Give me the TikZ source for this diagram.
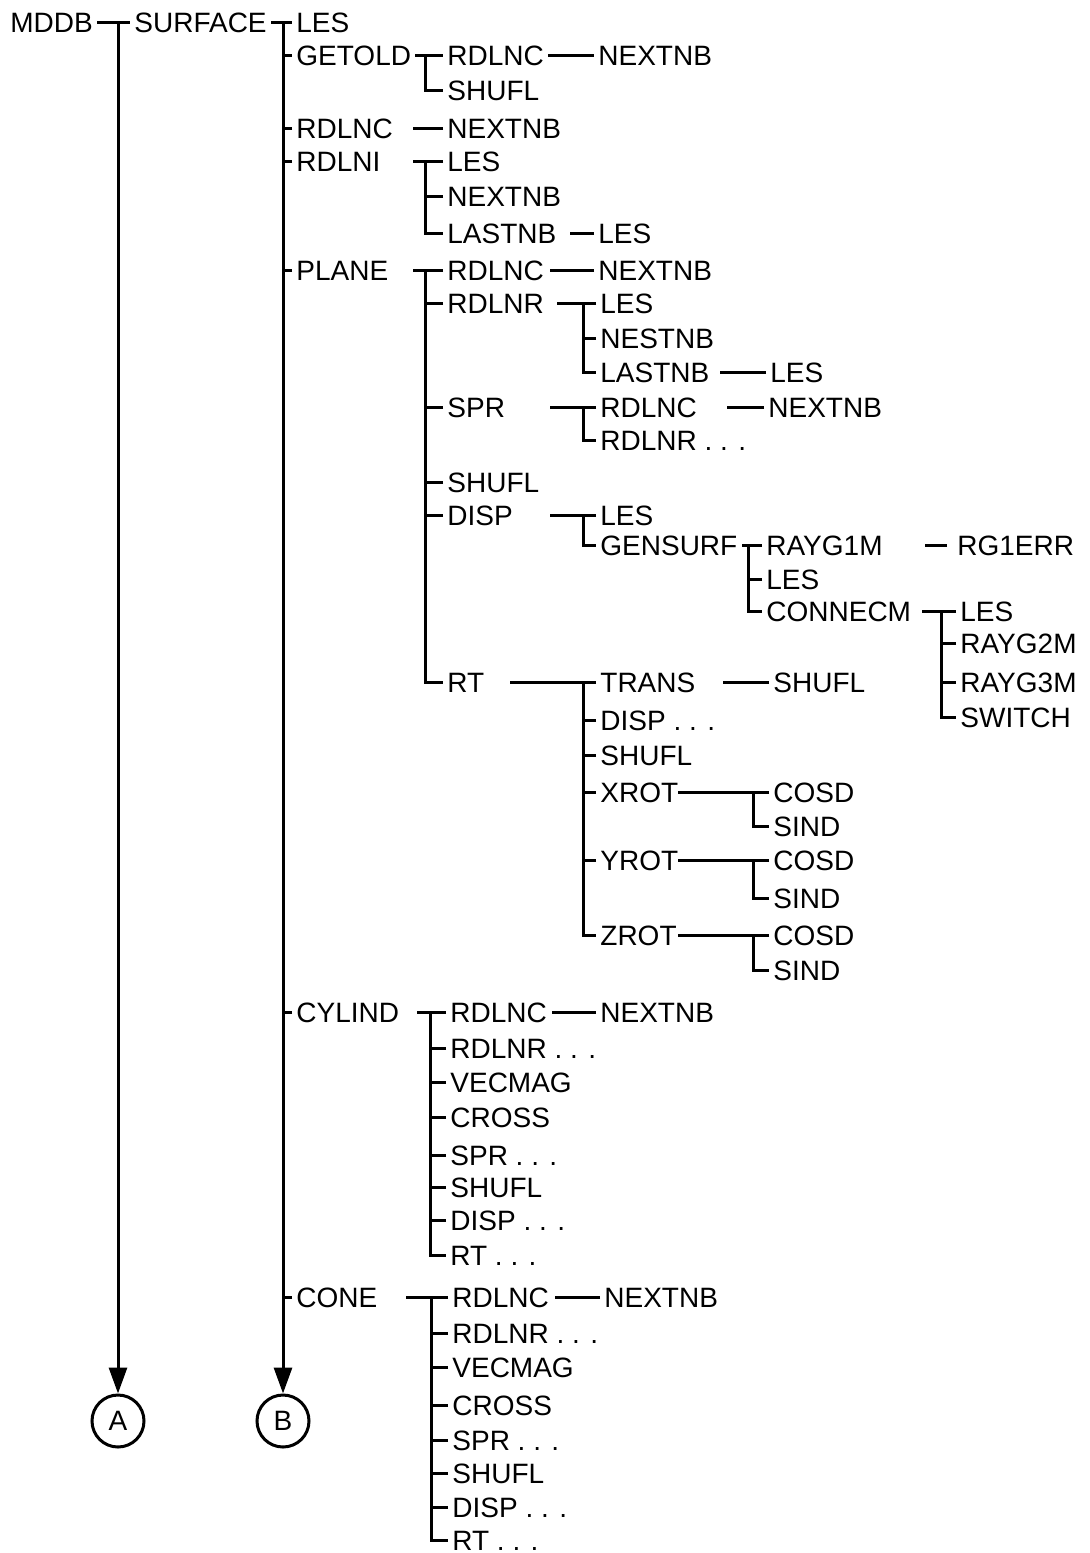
\documentclass[tikz,border=0pt]{standalone}
\usepackage{fontspec}
\setmainfont{Liberation Sans}
\usetikzlibrary{arrows.meta, positioning}

\tikzset{
  routine/.style={anchor=west, inner sep=2pt, font=\fontsize{14}{16}\selectfont,
                  text height=10pt, text depth=0pt},
  tree/.style={line width=1.5pt},
  callarrow/.style={tree, -{Triangle[length=13pt, width=9pt]}},
  endmark/.style={draw, circle, line width=1.5pt, minimum size=26pt, inner sep=0pt,
                  font=\fontsize{14}{16}\selectfont},
}

\begin{document}
\begin{tikzpicture}[x=0.5pt, y=-0.5pt]
  \useasboundingbox (0,0) rectangle (1090,1553);

  % Main program and its two continuations
  \node[routine] (mddb) at (6,22) {MDDB};
  \node[routine] (surface) at (130,22) {SURFACE};
  \node[endmark] (A) at (118,1421) {A};
  \node[endmark] (B) at (283,1421) {B};
  \draw[tree] (mddb) -- (surface);
  \draw[callarrow] (A |- surface.west) -- (A);

  % SURFACE
  \foreach \n/\y/\t in {les/22/LES, getold/55/GETOLD, rdlnc/128/RDLNC, rdlni/161/RDLNI,
                        plane/270/PLANE, cylind/1012/CYLIND, cone/1297/CONE}
    \node[routine] (\n) at (292,\y) {\t};
  \draw[tree] (surface) -- (les);
  \draw[callarrow] (B |- les.west) -- (B);
  \foreach \n in {getold, rdlnc, rdlni, plane, cylind, cone}
    \draw[tree] (\n.west) -- (B |- \n.west);

  % GETOLD
  \node[routine] (go1) at (443,55) {RDLNC};
  \node[routine] (go2) at (443,90) {SHUFL};
  \node[routine] (go3) at (594,55) {NEXTNB};
  \draw[tree] (getold) -- (go1);
  \draw[tree] (go1.west) ++(-18,0) |- (go2.west);
  \draw[tree] (go1) -- (go3);

  % RDLNC
  \node[routine] (rc1) at (443,128) {NEXTNB};
  \draw[tree] (rc1.west) -- ++(-30,0);

  % RDLNI
  \foreach \i/\y/\t in {1/161/LES, 2/196/NEXTNB, 3/233/LASTNB}
    \node[routine] (ri\i) at (443,\y) {\t};
  \node[routine] (ri4) at (594,233) {LES};
  \draw[tree] (ri1.west) -- ++(-30,0);
  \draw[tree] (ri1.west) ++(-18,0) |- (ri3.west);
  \draw[tree] (ri2.west) -- ++(-18,0);
  \draw[tree] (ri4.west) -- ++(-24,0);

  % PLANE
  \foreach \i/\y/\t in {1/270/RDLNC, 2/303/RDLNR, 3/407/SPR, 4/482/SHUFL, 5/515/DISP, 6/682/RT}
    \node[routine] (pl\i) at (443,\y) {\t};
  \node[routine] (pl1a) at (594,270) {NEXTNB};
  \draw[tree] (pl1.west) -- ++(-30,0);
  \draw[tree] (pl1.west) ++(-18,0) |- (pl6.west);
  \foreach \i in {2,...,5}
    \draw[tree] (pl\i.west) -- ++(-18,0);
  \draw[tree] (pl1a.west) -- ++(-44,0);

  % PLANE / RDLNR
  \foreach \i/\y/\t in {1/303/LES, 2/338/NESTNB, 3/372/LASTNB}
    \node[routine] (rr\i) at (596,\y) {\t};
  \node[routine] (rr4) at (766,372) {LES};
  \draw[tree] (rr1.west) -- ++(-39,0);
  \draw[tree] (rr1.west) ++(-13,0) |- (rr3.west);
  \draw[tree] (rr2.west) -- ++(-13,0);
  \draw[tree] (rr4.west) -- ++(-46,0);

  % PLANE / SPR
  \node[routine] (sp1) at (596,407) {RDLNC};
  \node[routine] (sp2) at (596,440) {RDLNR . . .};
  \node[routine] (sp3) at (764,407) {NEXTNB};
  \draw[tree] (sp1.west) -- ++(-46,0);
  \draw[tree] (sp1.west) ++(-13,0) |- (sp2.west);
  \draw[tree] (sp3.west) -- ++(-37,0);

  % PLANE / DISP
  \node[routine] (di1) at (596,515) {LES};
  \node[routine] (di2) at (596,545) {GENSURF};
  \draw[tree] (di1.west) -- ++(-46,0);
  \draw[tree] (di1.west) ++(-13,0) |- (di2.west);

  % GENSURF
  \foreach \i/\y/\t in {1/545/RAYG1M, 2/579/LES, 3/611/CONNECM}
    \node[routine] (gs\i) at (762,\y) {\t};
  \node[routine] (gs4) at (953,545) {RG1ERR};
  \draw[tree] (gs1.west) -- ++(-20,0);
  \draw[tree] (gs1.west) ++(-14,0) |- (gs3.west);
  \draw[tree] (gs2.west) -- ++(-14,0);
  \draw[tree] (gs4.west) ++(-6,0) -- ++(-22,0);

  % CONNECM
  \foreach \i/\y/\t in {1/611/LES, 2/643/RAYG2M, 3/682/RAYG3M, 4/717/SWITCH}
    \node[routine] (cm\i) at (956,\y) {\t};
  \draw[tree] (cm1.west) -- ++(-34,0);
  \draw[tree] (cm1.west) ++(-15,0) |- (cm4.west);
  \foreach \i in {2,3}
    \draw[tree] (cm\i.west) -- ++(-15,0);

  % PLANE / RT
  \foreach \i/\y/\t in {1/682/TRANS, 2/720/DISP . . ., 3/755/SHUFL, 4/792/XROT, 5/860/YROT, 6/935/ZROT}
    \node[routine] (rt\i) at (596,\y) {\t};
  \node[routine] (rt1a) at (769,682) {SHUFL};
  \draw[tree] (rt1.west) -- ++(-86,0);
  \draw[tree] (rt1.west) ++(-13,0) |- (rt6.west);
  \foreach \i in {2,...,5}
    \draw[tree] (rt\i.west) -- ++(-13,0);
  \draw[tree] (rt1a.west) -- ++(-46,0);

  % XROT, YROT, ZROT
  \foreach \r/\y/\z in {x/792/826, y/860/898, z/935/970} {
    \node[routine] (cos\r) at (769,\y) {COSD};
    \node[routine] (sin\r) at (769,\z) {SIND};
    \draw[tree] (cos\r.west) -- ++(-91,0);
    \draw[tree] (cos\r.west) ++(-16,0) |- (sin\r.west);
  }

  % CYLIND
  \foreach \i/\y/\t in {1/1012/RDLNC, 2/1048/RDLNR . . ., 3/1082/VECMAG, 4/1117/CROSS,
                        5/1155/SPR . . ., 6/1187/SHUFL, 7/1220/DISP . . ., 8/1255/RT . . .}
    \node[routine] (cy\i) at (446,\y) {\t};
  \node[routine] (cy1a) at (596,1012) {NEXTNB};
  \draw[tree] (cy1.west) -- ++(-29,0);
  \draw[tree] (cy1.west) ++(-16,0) |- (cy8.west);
  \foreach \i in {2,...,7}
    \draw[tree] (cy\i.west) -- ++(-16,0);
  \draw[tree] (cy1a.west) -- ++(-44,0);

  % CONE
  \foreach \i/\y/\t in {1/1297/RDLNC, 2/1333/RDLNR . . ., 3/1367/VECMAG, 4/1405/CROSS,
                        5/1440/SPR . . ., 6/1473/SHUFL, 7/1507/DISP . . ., 8/1540/RT . . .}
    \node[routine] (co\i) at (448,\y) {\t};
  \node[routine] (co1a) at (600,1297) {NEXTNB};
  \draw[tree] (co1.west) -- ++(-42,0);
  \draw[tree] (co1.west) ++(-17,0) |- (co8.west);
  \foreach \i in {2,...,7}
    \draw[tree] (co\i.west) -- ++(-17,0);
  \draw[tree] (co1a.west) -- ++(-45,0);
\end{tikzpicture}
\end{document}
